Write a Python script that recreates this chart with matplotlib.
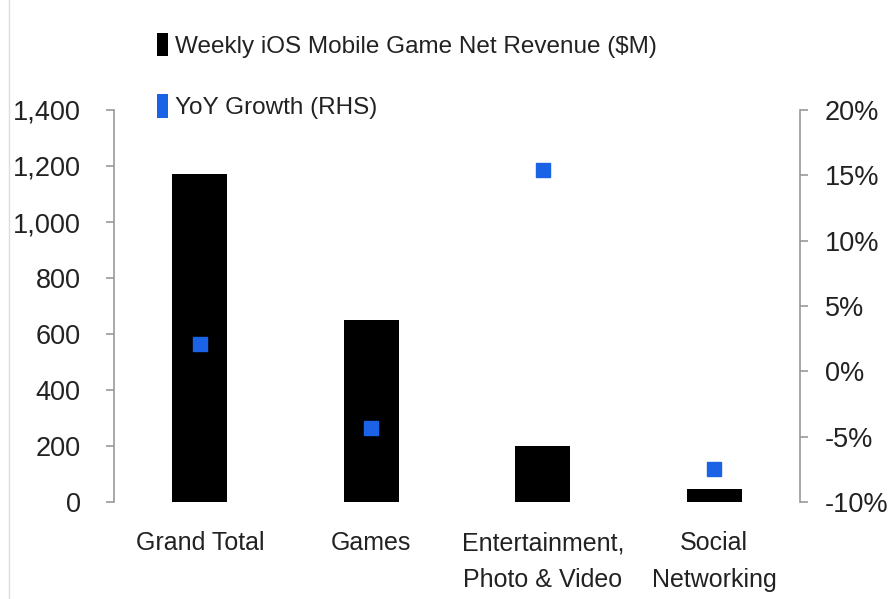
import matplotlib
matplotlib.use("Agg")
import matplotlib.pyplot as plt
from matplotlib.patches import Patch
from matplotlib.lines import Line2D
from matplotlib.ticker import FuncFormatter, FixedLocator
import numpy as np

plt.rcParams['font.family'] = ['Liberation Sans', 'DejaVu Sans']

categories = ["Grand Total", "Games", "Entertainment,\nPhoto & Video", "Social\nNetworking"]
revenue = [1170, 650, 200, 46]
yoy_growth = [0.021, -0.043, 0.154, -0.075]

left_ticks = [0, 200, 400, 600, 800, 1000, 1200, 1400]
right_ticks = [-0.10, -0.05, 0.0, 0.05, 0.10, 0.15, 0.20]

fig = plt.figure(figsize=(8.88, 5.99), dpi=100)
ax = fig.add_axes([114/888, 1 - 502/599, (800-114)/888, (502-110)/599])
ax2 = ax.twinx()

# faint frame line at the left edge of the image
fig.add_artist(Line2D([9/888, 9/888], [0, 1], transform=fig.transFigure,
                      color='#dddddd', linewidth=1))

x = np.arange(len(categories))
ax.bar(x, revenue, width=0.32, color='black', zorder=2)
ax2.plot(x, yoy_growth, linestyle='none', marker='s', markersize=10,
         color='#1a63e6', zorder=3)

ax.set_xlim(-0.5, 3.5)
ax.set_ylim(0, 1400)
ax2.set_ylim(-0.10, 0.20)

ax.yaxis.set_major_locator(FixedLocator(left_ticks))
ax.yaxis.set_major_formatter(FuncFormatter(lambda v, p: f"{int(v):,}"))
ax2.yaxis.set_major_locator(FixedLocator(right_ticks))
ax2.yaxis.set_major_formatter(FuncFormatter(lambda v, p: f"{v*100:.0f}%"))

ax.set_xticks(x)
ax.set_xticklabels(categories, fontsize=18, linespacing=1.65, color='#222222')
ax.tick_params(axis='x', length=0, pad=21)

for a in (ax, ax2):
    for s in ('top', 'bottom'):
        a.spines[s].set_visible(False)
ax.spines['right'].set_visible(False)
ax2.spines['left'].set_visible(False)
ax.spines['left'].set_color('#999999')
ax2.spines['right'].set_color('#999999')
ax.spines['left'].set_linewidth(1.2)
ax2.spines['right'].set_linewidth(1.2)

ax.tick_params(axis='y', direction='out', length=6, color='#999999', width=1.2,
               labelsize=19.5, pad=18, labelcolor='#222222')
ax2.tick_params(axis='y', direction='out', length=6, color='#999999', width=1.2,
                labelsize=19.5, pad=12, labelcolor='#222222')

handles = [Patch(facecolor='black', edgecolor='none'),
           Patch(facecolor='#1a63e6', edgecolor='none')]
labels = ["Weekly iOS Mobile Game Net Revenue ($M)", "YoY Growth (RHS)"]
fig.legend(handles, labels, loc='upper left', bbox_to_anchor=(157/888, 1 - 33/599),
           frameon=False, fontsize=17.5, handlelength=0.45, handleheight=1.1,
           handletextpad=0.3, labelspacing=1.5, borderpad=0, borderaxespad=0,
           labelcolor='#222222')

fig.savefig("out.png", dpi=100)
